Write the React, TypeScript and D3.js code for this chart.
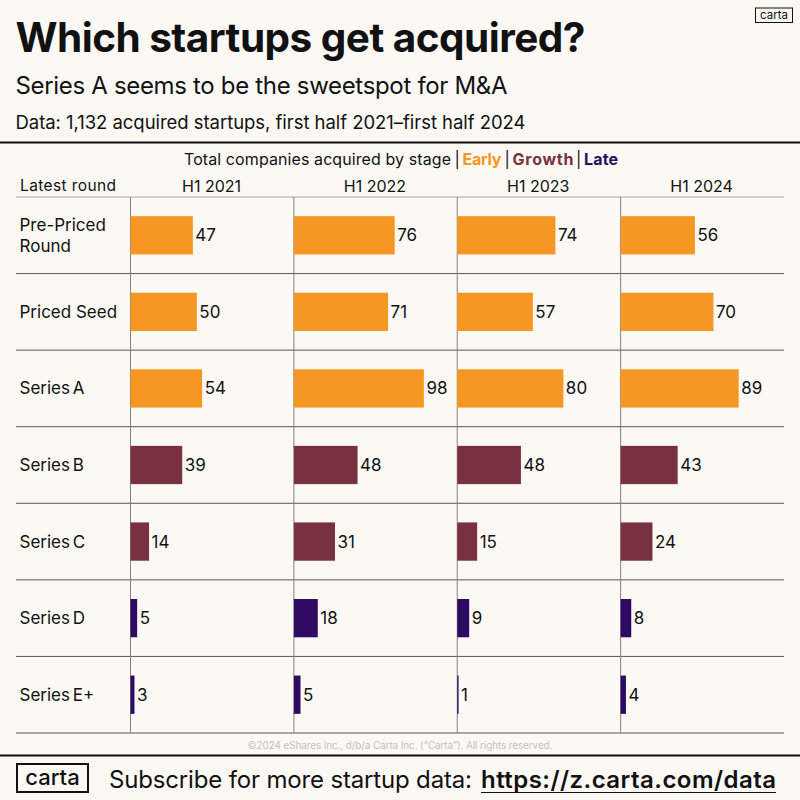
import * as d3 from 'd3';

const rounds = ['Pre-Priced Round', 'Priced Seed', 'Series A', 'Series B', 'Series C', 'Series D', 'Series E+'];
const periods = ['H1 2021', 'H1 2022', 'H1 2023', 'H1 2024'];
const h12021 = [47, 50, 54, 39, 14, 5, 3];
const h12022 = [76, 71, 98, 48, 31, 18, 5];
const h12023 = [74, 57, 80, 48, 15, 9, 1];
const h12024 = [56, 70, 89, 43, 24, 8, 4];
const stages = ['Early', 'Early', 'Early', 'Growth', 'Growth', 'Late', 'Late'];
const series = [h12021, h12022, h12023, h12024];

const FONT = 'Inter, "Noto Sans", sans-serif';
const BG = '#fcf9f5';
const INK = '#111111';

const color = d3.scaleOrdinal<string, string>()
  .domain(['Early', 'Growth', 'Late'])
  .range(['#f69723', '#79303f', '#2e0a62']);

const y = d3.scaleBand<string>().domain(rounds).range([197, 733]).paddingInner(0.5).paddingOuter(0.25);
const rowStep = y.step();
const rowTop = (r: string) => (y(r) as number) - (rowStep - y.bandwidth()) / 2;

const panel = d3.scaleBand<string>().domain(periods).range([130.5, 784]).padding(0);
const barLength = d3.scaleLinear().domain([0, 98]).range([0, 130]);

const App = () => (
  <svg
    width={800}
    height={800}
    viewBox="0 0 800 800"
    style={{ position: 'absolute', left: 0, top: 0, background: BG, fontFamily: FONT }}
  >
    <rect width={800} height={800} fill={BG} />

    {/* header */}
    <text x={15.5} y={52} fontSize={40.5} fontWeight={700} fill={INK} textLength={570}>Which startups get acquired?</text>
    <text x={15.5} y={94} fontSize={24} fill={INK} textLength={492}>Series A seems to be the sweetspot for M&amp;A</text>
    <text x={15.5} y={129} fontSize={18.5} fill={INK} textLength={510}>Data: 1,132 acquired startups, first half 2021–first half 2024</text>
    <rect x={755.5} y={8} width={37} height={14.5} fill="none" stroke={INK} strokeWidth={1} />
    <text x={774} y={19} fontSize={11.5} fill={INK} textAnchor="middle">carta</text>
    <line x1={0} x2={800} y1={142.5} y2={142.5} stroke={INK} strokeWidth={2} />

    {/* stage legend */}
    <text x={184} y={165} fontSize={16} fill={INK} textLength={267}>Total companies acquired by stage</text>
    <text x={454.5} y={165} fontSize={16} fill={INK}>|</text>
    <text x={462.5} y={165} fontSize={16} fontWeight={700} fill={color('Early')} textLength={39}>Early</text>
    <text x={504.5} y={165} fontSize={16} fill={INK}>|</text>
    <text x={512.5} y={165} fontSize={16} fontWeight={700} fill={color('Growth')} textLength={61}>Growth</text>
    <text x={576} y={165} fontSize={16} fill={INK}>|</text>
    <text x={584} y={165} fontSize={16} fontWeight={700} fill={color('Late')} textLength={34}>Late</text>

    {/* column headers */}
    <text x={20} y={190.5} fontSize={15.5} fill={INK} textLength={96}>Latest round</text>
    {periods.map((p) => (
      <text
        key={p}
        x={(panel(p) as number) + 81}
        y={191.5}
        fontSize={16}
        fill={INK}
        textAnchor="middle"
      >
        {p}
      </text>
    ))}

    {/* grid */}
    <line x1={16} x2={784} y1={197} y2={197} stroke="#a8a5a2" strokeWidth={1} />
    {rounds.map((r) => (
      <line key={r} x1={16} x2={784} y1={rowTop(r) + rowStep} y2={rowTop(r) + rowStep} stroke="#5a5754" strokeWidth={1} />
    ))}
    {periods.map((p) => (
      <line key={p} x1={panel(p)} x2={panel(p)} y1={197} y2={733} stroke="#85827f" strokeWidth={1} />
    ))}

    {/* row labels */}
    {rounds.map((r) => {
      const cy = (y(r) as number) + y.bandwidth() / 2;
      const words = r === 'Pre-Priced Round' ? ['Pre-Priced', 'Round'] : [r];
      return (
        <text
          key={r}
          x={19.5}
          y={cy + 6 - (words.length - 1) * 10.5}
          fontSize={17}
          fill={INK}
          wordSpacing={r.startsWith('Series') ? -2 : 0}
        >
          {words.map((w, i) => (
            <tspan key={w} x={19.5} dy={i === 0 ? 0 : 21}>{w}</tspan>
          ))}
        </text>
      );
    })}

    {/* bars */}
    {periods.map((p, col) =>
      rounds.map((r, row) => {
        const v = series[col][row];
        const x0 = panel(p) as number;
        return (
          <g key={`${p}-${r}`}>
            <rect
              x={x0}
              y={y(r)}
              width={barLength(v)}
              height={y.bandwidth()}
              fill={color(stages[row])}
            />
            <text
              x={x0 + barLength(v) + 2.5}
              y={(y(r) as number) + y.bandwidth() / 2 + 6}
              fontSize={17}
              fill={INK}
            >
              {v}
            </text>
          </g>
        );
      })
    )}

    {/* footer */}
    <text x={400} y={749} fontSize={10} fill="#c4c1bd" textAnchor="middle" textLength={305}>
      ©2024 eShares Inc., d/b/a Carta Inc. (“Carta”). All rights reserved.
    </text>
    <line x1={0} x2={800} y1={755.5} y2={755.5} stroke={INK} strokeWidth={2} />
    <rect x={17} y={764} width={71} height={28} fill="none" stroke={INK} strokeWidth={2} />
    <text x={52.5} y={785} fontSize={22} fontWeight={500} fill={INK} textAnchor="middle">carta</text>
    <text x={109} y={787.5} fontSize={24} fill={INK} textLength={363}>Subscribe for more startup data:</text>
    <text x={481} y={787.5} fontSize={24} fontWeight={600} fill={INK} textLength={295}>https://z.carta.com/data</text>
    <line x1={481} x2={776} y1={792.5} y2={792.5} stroke={INK} strokeWidth={1} />
  </svg>
);

export default App;
